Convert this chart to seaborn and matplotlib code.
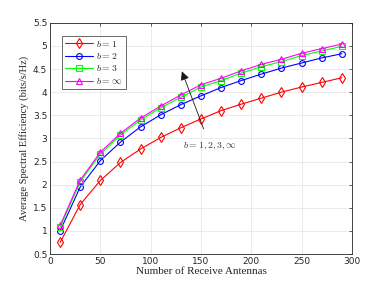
import numpy as np
import pandas as pd
import matplotlib
matplotlib.use('Agg')
import matplotlib.pyplot as plt
import seaborn as sns

# number of receive antennas
antennas = [10, 30, 50, 70, 90, 110, 130, 150, 170, 190, 210, 230, 250, 270, 290]

# average spectral efficiency (bits/s/Hz) per quantization level b
se_b1 = [0.75, 1.57, 2.09, 2.48, 2.77, 3.02, 3.23, 3.42, 3.60, 3.74, 3.87, 4.00, 4.11, 4.21, 4.31]
se_b2 = [1.00, 1.95, 2.52, 2.92, 3.25, 3.51, 3.73, 3.92, 4.10, 4.25, 4.39, 4.52, 4.63, 4.74, 4.83]
se_b3 = [1.08, 2.06, 2.66, 3.07, 3.40, 3.66, 3.89, 4.11, 4.25, 4.41, 4.55, 4.66, 4.79, 4.89, 4.99]
se_binf = [1.12, 2.10, 2.70, 3.11, 3.44, 3.70, 3.94, 4.16, 4.30, 4.46, 4.60, 4.71, 4.84, 4.94, 5.04]

labels = [r'$b=1$', r'$b=2$', r'$b=3$', r'$b=\infty$']
colors = ['#ff0000', '#0000ff', '#00ff00', '#ff00ff']
markers = ['d', 'o', 's', '^']

df = pd.DataFrame({
    'N': antennas * 4,
    'SE': se_b1 + se_b2 + se_b3 + se_binf,
    'b': sum([[l] * len(antennas) for l in labels], []),
})

sns.set_style('whitegrid')
plt.rcParams['mathtext.fontset'] = 'cm'
plt.rcParams['font.family'] = ['DejaVu Sans']

fig = plt.figure(figsize=(3.88, 2.88), dpi=100)
ax = fig.add_axes([0.129, 0.118, 0.778, 0.803])

for lab, col, mk in zip(labels, colors, markers):
    sub = df[df['b'] == lab]
    sns.lineplot(data=sub, x='N', y='SE', ax=ax, color=col, marker=mk,
                 markersize=4.2 if mk != 'd' else 4.8, markerfacecolor='none',
                 markeredgecolor=col, markeredgewidth=0.8, linewidth=0.8,
                 label=lab)

ax.set_xlim(0, 300)
ax.set_ylim(0.5, 5.5)
ax.set_xticks(np.arange(0, 301, 50))
ax.set_yticks(np.arange(0.5, 5.51, 0.5))
ax.set_yticklabels(['0.5', '1', '1.5', '2', '2.5', '3', '3.5', '4', '4.5', '5', '5.5'])
ax.tick_params(labelsize=6.5, direction='in', length=2.5, width=0.5,
               top=True, right=True, colors='#262626', pad=2)
ax.grid(True, color='#e3e3e3', linewidth=0.5)
for s in ax.spines.values():
    s.set_color('#262626')
    s.set_linewidth(0.6)

ax.set_xlabel('Number of Receive Antennas', family='Liberation Serif', fontsize=8, labelpad=1)
ax.set_ylabel('Average Spectral Efficiency (bits/s/Hz)', family='Liberation Serif', fontsize=7.6, labelpad=3)

ax.annotate(r'$b=1,2,3,\infty$', xy=(131, 4.45), xytext=(159, 2.84),
            fontsize=7, ha='center', va='center', color='#333333',
            arrowprops=dict(arrowstyle='-|>', color='#1a1a1a', lw=0.6,
                            mutation_scale=13, shrinkA=6, shrinkB=0))

leg = ax.legend(loc='upper left', bbox_to_anchor=(0.025, 0.965), fontsize=7,
                frameon=True, fancybox=False, edgecolor='#262626',
                handlelength=2.8, borderpad=0.3, labelspacing=0.25,
                handletextpad=0.4)
leg.get_frame().set_linewidth(0.6)

fig.savefig('out.png', dpi=100)
